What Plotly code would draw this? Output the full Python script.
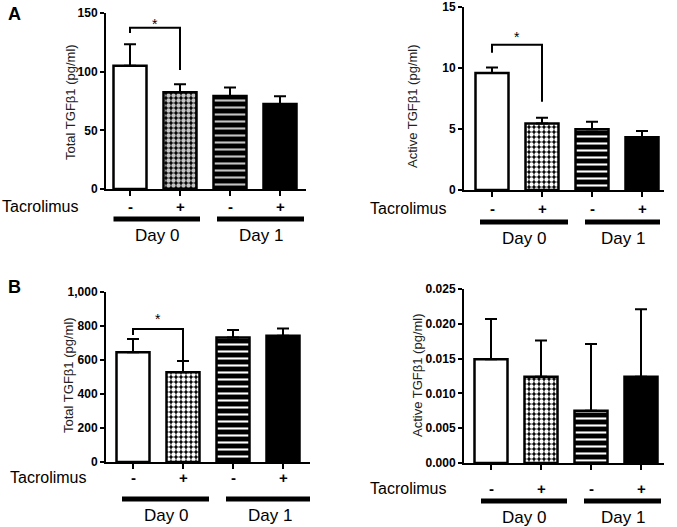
import plotly.graph_objects as go

# ---------------- data ----------------
groups = ["Day 0 -", "Day 0 +", "Day 1 -", "Day 1 +"]
tacrolimus_signs = ["-", "+", "-", "+"]
day_labels = ["Day 0", "Day 1"]

a_total_mean = [105.0, 82.4, 79.3, 72.5]
a_total_err = [18.3, 6.8, 7.1, 6.6]
a_active_mean = [9.6, 5.45, 4.97, 4.33]
a_active_err = [0.45, 0.48, 0.63, 0.5]
b_total_mean = [645, 528, 733, 743]
b_total_err = [79, 66, 43, 43]
b_active_mean = [0.0149, 0.0124, 0.0075, 0.0124]
b_active_err = [0.0058, 0.0052, 0.0096, 0.0097]

y_titles = ["Total TGF\u03b21 (pg/ml)", "Active TGF\u03b21 (pg/ml)",
            "Total TGF\u03b21 (pg/ml)", "Active TGF\u03b21 (pg/ml)"]
panel_letters = ["A", "B"]

W, H = 677, 527
FONT = "Liberation Sans, Arial, sans-serif"

def py(px):
    return 1 - px / H

panels = [
    dict(mean=a_total_mean, err=a_total_err, x0=106, x1=306, ytop=13, ybot=189,
         xr=[-0.48, 3.52], yr=[0, 150], dtick=50, fmt="", fg="#c4c4c4",
         signs_y=206, line_y=219, day_y=235, tac_x=80, title_xy=(70, 102),
         d0=[-0.33, 1.4], d1=[1.74, 3.48],
         br=dict(top=137.5, l=133, r=101.5, star=(0.5, 24))),
    dict(mean=a_active_mean, err=a_active_err, x0=464, x1=664, ytop=7, ybot=190,
         xr=[-0.56, 3.44], yr=[0, 15], dtick=5, fmt="", fg="white",
         signs_y=208, line_y=222, day_y=238, tac_x=448, title_xy=(412, 106),
         d0=[-0.24, 1.52], d1=[1.86, 3.36],
         br=dict(top=11.9, l=11.25, r=7.24, star=(0.5, 37))),
    dict(mean=b_total_mean, err=b_total_err, x0=106, x1=310, ytop=292, ybot=462,
         xr=[-0.54, 3.54], yr=[0, 1000], dtick=200, fmt=",", fg="white",
         signs_y=477, line_y=499, day_y=515, tac_x=88, title_xy=(68, 375),
         d0=[-0.22, 1.52], d1=[1.86, 3.6],
         br=dict(top=782, l=747, r=560, star=(0.5, 319))),
    dict(mean=b_active_mean, err=b_active_err, x0=464, x1=664, ytop=289, ybot=463,
         xr=[-0.54, 3.46], yr=[0, 0.025], dtick=0.005, fmt=".3f", fg="white",
         signs_y=488, line_y=501, day_y=517, tac_x=448, title_xy=(417, 375),
         d0=[-0.2, 1.52], d1=[1.86, 3.4], br=None),
]

fig = go.Figure()
shapes = []
annotations = []

def ann(**kw):
    kw.setdefault("showarrow", False)
    kw.setdefault("xanchor", "center")
    kw.setdefault("yanchor", "middle")
    annotations.append(kw)

for i, p in enumerate(panels):
    n = "" if i == 0 else str(i + 1)
    xa, ya = "x" + n, "y" + n
    xs = list(range(len(groups)))
    bgs = ["white", "black", "black", "black"]
    fgs = ["black", p["fg"], p["fg"], "black"]
    shapes_ = ["", ".", "-", ""]
    sizes = [6, 5, 7, 6]
    sol = [0.3, 0.6, 0.3, 0.3]
    for j in range(len(groups)):
        fig.add_trace(go.Bar(
            x=[xs[j]], y=[p["mean"][j]], xaxis=xa, yaxis=ya, width=0.66,
            marker=dict(color=bgs[j], line=dict(color="black", width=2.5),
                        pattern=dict(shape=shapes_[j], fgcolor=fgs[j], bgcolor=bgs[j],
                                     size=sizes[j], solidity=sol[j], fillmode="replace")),
            error_y=dict(type="data", symmetric=False, array=[p["err"][j]], arrayminus=[0],
                         color="black", thickness=2, width=6),
            showlegend=False, hoverinfo="skip"))

    ax = dict(domain=[p["x0"] / W, p["x1"] / W], range=p["xr"], showgrid=False,
              zeroline=False, showline=True, linecolor="black", linewidth=2,
              ticks="outside", ticklen=5, tickwidth=1.5, tickcolor="black",
              tickvals=xs, showticklabels=False, anchor=ya, fixedrange=True,
              automargin=False)
    ay = dict(domain=[py(p["ybot"]), py(p["ytop"])], range=p["yr"], showgrid=False,
              zeroline=False, showline=True, linecolor="black", linewidth=2,
              ticks="outside", ticklen=4, tickwidth=1.5, tickcolor="black",
              dtick=p["dtick"], tick0=0, tickformat=p["fmt"], anchor=xa,
              tickfont=dict(family="Liberation Sans", size=12, color="black", weight="bold"),
              fixedrange=True, automargin=False)
    fig.layout["xaxis" + n] = ax
    fig.layout["yaxis" + n] = ay

    tx, ty = p["title_xy"]
    ann(x=tx / W, xref="paper", y=py(ty), yref="paper", text=y_titles[i], textangle=-90,
        font=dict(family=FONT, size=13, color="#222"))

    for j, s in enumerate(tacrolimus_signs):
        ann(x=xs[j], xref=xa, y=py(p["signs_y"]), yref="paper", text="<b>%s</b>" % s,
            font=dict(family=FONT, size=15, color="black"))
    ann(x=p["tac_x"] / W, xref="paper", y=py(p["signs_y"]), yref="paper",
        text="Tacrolimus", xanchor="right", font=dict(family=FONT, size=16, color="black"))
    for k, rng in enumerate([p["d0"], p["d1"]]):
        shapes.append(dict(type="line", xref=xa, yref="paper", x0=rng[0], x1=rng[1],
                           y0=py(p["line_y"]), y1=py(p["line_y"]),
                           line=dict(color="black", width=5)))
        ann(x=(rng[0] + rng[1]) / 2, xref=xa, y=py(p["day_y"]), yref="paper",
            text=day_labels[k], font=dict(family=FONT, size=17, color="black"))
    br = p["br"]
    if br:
        shapes.append(dict(type="path", xref=xa, yref=ya,
                           path="M 0 %g L 0 %g L 1 %g L 1 %g" % (br["l"], br["top"], br["top"], br["r"]),
                           line=dict(color="black", width=2)))
        ann(x=br["star"][0], xref=xa, y=py(br["star"][1]), yref="paper", text="*",
            font=dict(family=FONT, size=14, color="black"))

ann(x=14 / W, xref="paper", y=py(14), yref="paper", text="<b>A</b>",
    font=dict(family=FONT, size=18, color="black"))
ann(x=14 / W, xref="paper", y=py(287), yref="paper", text="<b>B</b>",
    font=dict(family=FONT, size=18, color="black"))

fig.update_layout(width=W, height=H, margin=dict(l=0, r=0, t=0, b=0, autoexpand=False),
                  plot_bgcolor="white", paper_bgcolor="white", barmode="overlay",
                  shapes=shapes, annotations=annotations, showlegend=False,
                  font=dict(family=FONT))
fig.write_html("out.html", config={"displayModeBar": False},
               post_script="document.body.style.margin='0';document.body.style.overflow='hidden';")
